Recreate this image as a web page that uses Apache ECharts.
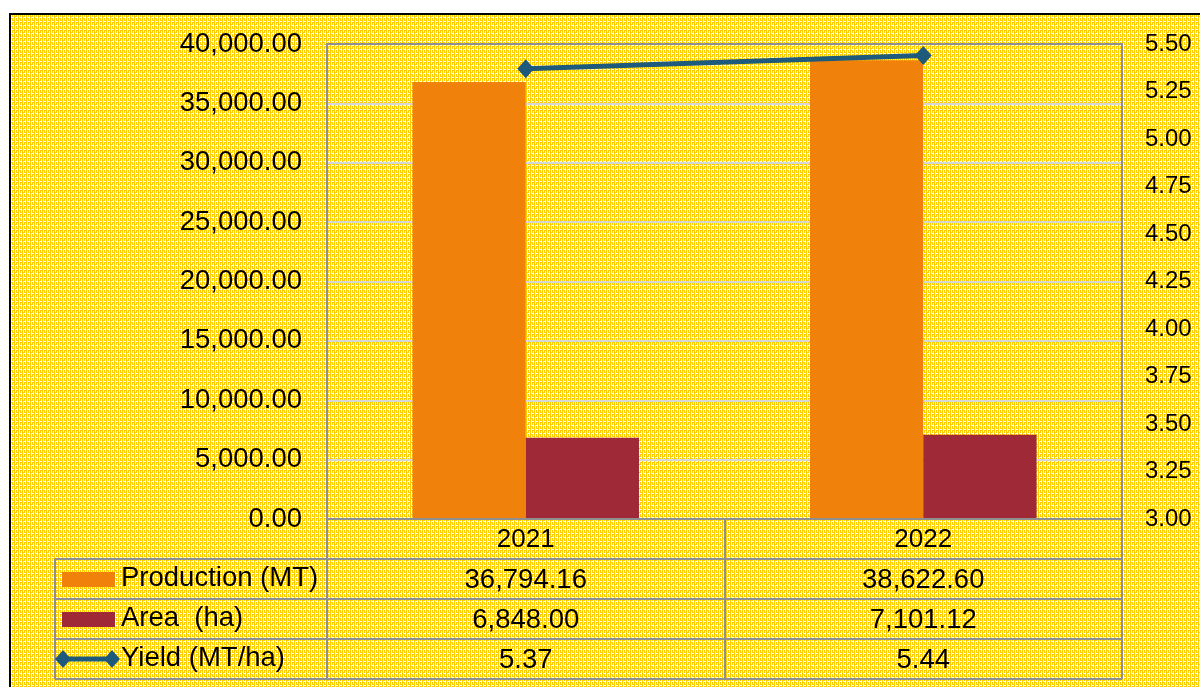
<!DOCTYPE html>
<html>
<head>
<meta charset="utf-8">
<script src="https://cdn.jsdelivr.net/npm/echarts@6/dist/echarts.min.js"></script>
<style>
  html, body { margin: 0; padding: 0; background: #fff; overflow: hidden; }
  #wrap { position: relative; width: 1200px; height: 687px; background: #fff; }
  #paper { position: absolute; left: 9px; top: 13px; width: 1300px; height: 800px;
           border-left: 2px solid #000; border-top: 2px solid #000; }
  #chart { position: absolute; left: 0; top: 0; width: 1200px; height: 687px; }
</style>
</head>
<body>
<div id="wrap">
  <div id="paper"></div>
  <div id="chart"></div>
</div>
<script>
"use strict";

const years = ["2021", "2022"];
const production = [36794.16, 38622.60];
const area = [6848.00, 7101.12];
const yieldValues = [5.37, 5.44];
const seriesNames = ["Production (MT)", "Area  (ha)", "Yield (MT/ha)"];
const leftAxisTicks = [0, 40000, 5000];   // min, max, interval
const rightAxisTicks = [3, 5.5, 0.25];

const ORANGE = "#F0820C";
const MAROON = "#9F2936";
const BLUE = "#1D5A7B";
const GREY = "#8F8F8F";
const FONT = "'Liberation Sans', Arial, sans-serif";

const fmt2 = (v) => v.toLocaleString("en-US", { minimumFractionDigits: 2, maximumFractionDigits: 2 });

// yellow / white plaid fill like the original worksheet background
const makePattern = () => {
  const rows = [
    "W.W.W.W.",
    "W.W...W.",
    "WWW.WWW.",
    "..W.W.W.",
    "W.W.W.W.",
    "W...W...",
    "WWW.WWW.",
    "W...W..."
  ];
  const c = document.createElement("canvas");
  c.width = 8;
  c.height = 8;
  const ctx = c.getContext("2d");
  ctx.fillStyle = "#FFCC00";
  ctx.fillRect(0, 0, 8, 8);
  ctx.fillStyle = "#FFFFFF";
  rows.forEach((r, y) => {
    for (let x = 0; x < 8; x++) {
      if (r[x] === "W") ctx.fillRect(x, y, 1, 1);
    }
  });
  return c.toDataURL();
};
document.getElementById("paper").style.backgroundImage = "url(" + makePattern() + ")";

const tableRowAxis = (offset, values, digits) => ({
  type: "category",
  data: years,
  position: "bottom",
  offset: offset,
  axisLine: { show: false },
  axisTick: { show: false },
  axisLabel: {
    margin: 7,
    fontSize: 27.5,
    fontFamily: FONT,
    color: "#000",
    formatter: (v, i) => digits ? fmt2(values[i]) : values[i].toFixed(2)
  }
});

const hLine = (y) => ({
  type: "line",
  shape: { x1: 55, y1: y, x2: 1122, y2: y },
  style: { stroke: GREY, lineWidth: 2 },
  z: 5
});

const legendText = (y, text) => ({
  type: "text",
  left: 121,
  top: y - 15,
  style: { text: text, fontSize: 27.5, fontFamily: FONT, fill: "#000" },
  z: 6
});

const diamond = (cx, cy) => ({
  type: "polygon",
  shape: { points: [[cx - 8, cy], [cx, cy - 9], [cx + 8, cy], [cx, cy + 9]] },
  style: { fill: BLUE },
  z: 6
});

const chart = echarts.init(document.getElementById("chart"));

chart.setOption({
  backgroundColor: "transparent",
  animation: false,
  grid: {
    left: 327, right: 78, top: 44, bottom: 168,
    show: true,
    borderColor: GREY,
    borderWidth: 2,
    backgroundColor: "transparent",
    z: 3
  },
  xAxis: [
    {
      type: "category",
      data: years,
      axisLine: { lineStyle: { color: GREY, width: 2 } },
      axisTick: { show: true, interval: 0, length: 160, lineStyle: { color: GREY, width: 2 } },
      axisLabel: { margin: 8, fontSize: 26, fontFamily: FONT, color: "#000" }
    },
    tableRowAxis(40, production, true),
    tableRowAxis(80, area, true),
    tableRowAxis(120, yieldValues, false)
  ],
  yAxis: [
    {
      type: "value",
      min: leftAxisTicks[0], max: leftAxisTicks[1], interval: leftAxisTicks[2],
      axisLine: { show: false },
      axisTick: { show: false },
      splitLine: { lineStyle: { color: "#D6D6D6", width: 2 } },
      axisLabel: { margin: 25, fontSize: 27.5, fontFamily: FONT, color: "#000", formatter: (v) => fmt2(v) }
    },
    {
      type: "value",
      position: "right",
      min: rightAxisTicks[0], max: rightAxisTicks[1], interval: rightAxisTicks[2],
      axisLine: { show: false },
      axisTick: { show: false },
      splitLine: { show: false },
      axisLabel: { margin: 23, fontSize: 24, fontFamily: FONT, color: "#000", formatter: (v) => v.toFixed(2) }
    }
  ],
  series: [
    {
      name: seriesNames[0], type: "bar", data: production,
      barGap: "0%", barCategoryGap: "43%",
      itemStyle: { color: ORANGE }
    },
    {
      name: seriesNames[1], type: "bar", data: area,
      itemStyle: { color: MAROON }
    },
    {
      name: seriesNames[2], type: "line", yAxisIndex: 1, data: yieldValues,
      symbol: "diamond", symbolSize: [17, 19],
      lineStyle: { color: BLUE, width: 5 },
      itemStyle: { color: BLUE }
    }
  ],
  graphic: [
    hLine(559), hLine(599), hLine(639), hLine(679),
    {
      type: "line",
      shape: { x1: 55, y1: 559, x2: 55, y2: 679 },
      style: { stroke: GREY, lineWidth: 2 },
      z: 5
    },
    { type: "rect", shape: { x: 62, y: 572, width: 53, height: 15 }, style: { fill: ORANGE }, z: 6 },
    legendText(579, seriesNames[0]),
    { type: "rect", shape: { x: 62, y: 612, width: 53, height: 15 }, style: { fill: MAROON }, z: 6 },
    legendText(619, seriesNames[1]),
    {
      type: "line",
      shape: { x1: 63, y1: 659, x2: 112, y2: 659 },
      style: { stroke: BLUE, lineWidth: 5 },
      z: 6
    },
    diamond(63, 659), diamond(112, 659),
    legendText(659, seriesNames[2])
  ]
});
</script>
</body>
</html>
